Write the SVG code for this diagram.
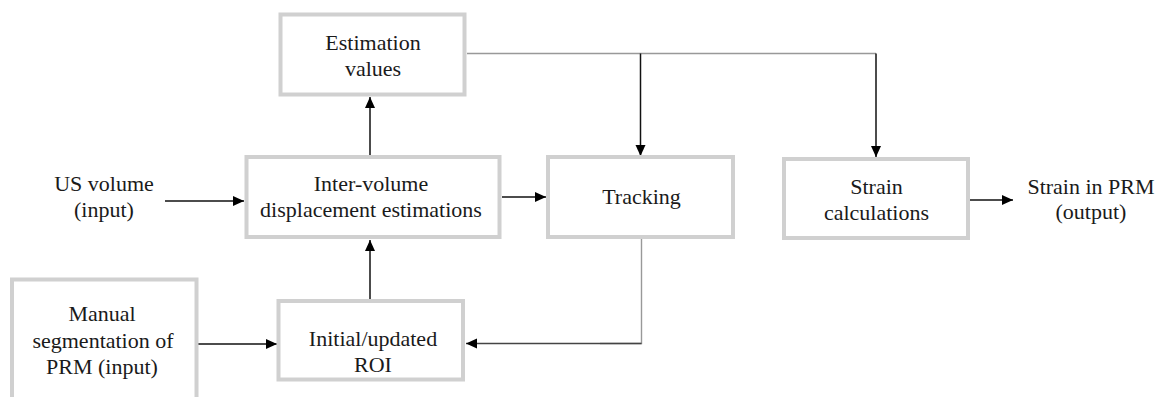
<svg xmlns="http://www.w3.org/2000/svg" width="1160" height="397" viewBox="0 0 1160 397" font-family="Liberation Serif, DejaVu Serif, serif">
<style>
.box{fill:#fff;stroke:#d0d0d0;stroke-width:4}
text{font-family:Liberation Serif, DejaVu Serif, serif;font-size:22px;fill:#1a1a1a;text-anchor:middle}
.k{fill:none;stroke:#111;stroke-width:1.5}
.g{fill:none;stroke:#999;stroke-width:1.4}
</style>
<defs>
<marker id="ah" markerUnits="userSpaceOnUse" markerWidth="12" markerHeight="12" refX="11" refY="6" orient="auto">
<path d="M0,1 L11,6 L0,11 Z" fill="#000"/>
</marker>
</defs>
<rect width="1160" height="397" fill="#fff"/>
<g id="connectors">
<line class="g" x1="467" y1="53.5" x2="876" y2="53.5"/>
<line class="k" x1="640.5" y1="53.5" x2="640.5" y2="156" marker-end="url(#ah)"/>
<line class="k" x1="876" y1="53.5" x2="876" y2="157" marker-end="url(#ah)"/>
<line class="k" x1="370" y1="155" x2="370" y2="97" marker-end="url(#ah)"/>
<line class="k" x1="165" y1="201" x2="244" y2="201" marker-end="url(#ah)"/>
<line class="k" x1="502" y1="197" x2="546" y2="197" marker-end="url(#ah)"/>
<line class="k" x1="370" y1="299" x2="370" y2="240" marker-end="url(#ah)"/>
<line class="k" x1="198" y1="344" x2="277" y2="344" marker-end="url(#ah)"/>
<polyline class="g" points="641.5,239 641.5,343.5 600,343.5"/>
<line x1="641.5" y1="343.5" x2="466" y2="343.5" stroke="#444" stroke-width="1.5" marker-end="url(#ah)"/>
<line class="k" x1="970" y1="200" x2="1013" y2="200" marker-end="url(#ah)"/>
</g>
<g id="estimation">
<rect class="box" x="280.5" y="14.5" width="184" height="80"/>
<text x="373" y="50">Estimation</text>
<text x="373" y="76">values</text>
</g>
<g id="us-volume">
<text x="104" y="191">US volume</text>
<text x="104" y="217">(input)</text>
</g>
<g id="inter-volume">
<rect class="box" x="246.5" y="157" width="253" height="80"/>
<text x="371" y="191">Inter-volume</text>
<text x="371" y="217">displacement estimations</text>
</g>
<g id="tracking">
<rect class="box" x="548" y="157" width="185" height="80"/>
<text x="641.5" y="204">Tracking</text>
</g>
<g id="strain-calc">
<rect class="box" x="784" y="159" width="184" height="79"/>
<text x="876.5" y="193.5">Strain</text>
<text x="876.5" y="220">calculations</text>
</g>
<g id="strain-output">
<text x="1091" y="193.5">Strain in PRM</text>
<text x="1091" y="219">(output)</text>
</g>
<g id="manual">
<rect class="box" x="12" y="279.5" width="184.5" height="140"/>
<text x="102" y="321">Manual</text>
<text x="103" y="347.5">segmentation of</text>
<text x="102" y="373.5">PRM (input)</text>
</g>
<g id="roi">
<rect class="box" x="278.5" y="301" width="184.5" height="78.5"/>
<text x="373" y="346">Initial/updated</text>
<text x="373" y="372">ROI</text>
</g>
</svg>
